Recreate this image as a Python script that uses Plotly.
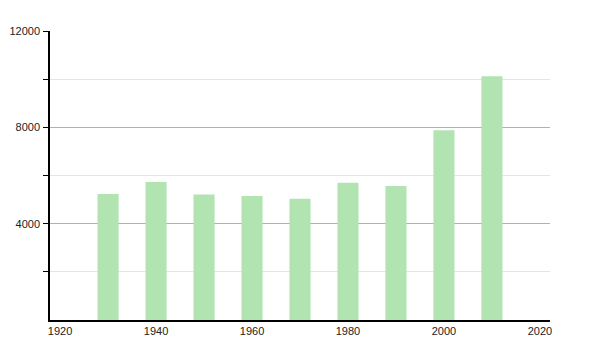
import plotly.graph_objects as go

years = [1930, 1940, 1950, 1960, 1970, 1980, 1990, 2000, 2010]
population = [5227, 5725, 5210, 5144, 5036, 5699, 5559, 7880, 10118]

fig = go.Figure()
fig.add_trace(go.Bar(
    x=years, y=population, width=4.4,
    marker=dict(color="rgb(178,228,178)", line=dict(width=0)),
))

fig.update_layout(
    width=600, height=350,
    margin=dict(l=50, r=50, t=31, b=30),
    paper_bgcolor="white", plot_bgcolor="white",
    showlegend=False,
    font=dict(family="Liberation Sans, Arial, sans-serif", size=11, color="#222"),
)
fig.update_xaxes(
    range=[1917.9, 2022.1], tickmode="array",
    tickvals=[1920, 1940, 1960, 1980, 2000, 2020],
    ticktext=["1920", "1940", "1960", "1980", "2000", "2020"],
    showgrid=False, showline=True, linecolor="black", linewidth=1.5,
    ticks="", zeroline=False, automargin=False,
)
fig.update_yaxes(
    range=[0, 12000], tickmode="array",
    tickvals=[4000, 8000, 12000], ticktext=["4000", "8000", "12000"],
    showgrid=True, gridcolor="#b0b0b0", gridwidth=1,
    showline=True, linecolor="black", linewidth=1.5,
    ticks="outside", ticklen=5, tickcolor="black",
    zeroline=False, ticklabelstandoff=1, automargin=False,
    minor=dict(tickvals=[2000, 6000, 10000], showgrid=True, gridcolor="#e4e4e4",
               ticks="outside", ticklen=5, tickcolor="black"),
)

fig.write_html("out.html")
